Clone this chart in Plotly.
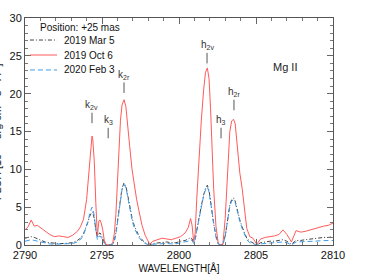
import plotly.graph_objects as go

wavelength = [
    2790.0, 2790.2, 2790.4, 2790.6, 2790.8, 2791.0, 2791.3, 2791.6, 2791.9, 2792.2,
    2792.5, 2792.8, 2793.1, 2793.4, 2793.6, 2793.8, 2794.0, 2794.1, 2794.2, 2794.3,
    2794.35, 2794.4, 2794.5, 2794.6, 2794.7, 2794.8, 2794.87, 2794.95, 2795.05, 2795.15,
    2795.25, 2795.4, 2795.55, 2795.7, 2795.8, 2795.9, 2796.0, 2796.1, 2796.2, 2796.3,
    2796.43, 2796.55, 2796.65, 2796.8, 2796.95, 2797.1, 2797.25, 2797.4, 2797.6, 2797.8,
    2798.0, 2798.1, 2798.3, 2798.6, 2798.9, 2799.2, 2799.5, 2799.8, 2800.1, 2800.4,
    2800.6, 2800.75, 2800.85, 2800.95, 2801.05, 2801.15, 2801.3, 2801.45, 2801.6, 2801.72,
    2801.84, 2801.95, 2802.05, 2802.15, 2802.25, 2802.4, 2802.55, 2802.7, 2802.85, 2803.0,
    2803.1, 2803.2, 2803.3, 2803.42, 2803.55, 2803.65, 2803.75, 2803.85, 2803.95, 2804.1,
    2804.25, 2804.4, 2804.6, 2804.8, 2805.05, 2805.3, 2805.6, 2805.9, 2806.2, 2806.5,
    2806.75, 2807.0, 2807.3, 2807.6, 2807.9, 2808.2, 2808.5, 2808.8, 2809.1, 2809.4,
    2809.7, 2810.0,
]

flux_2019_mar5 = [
    0.9, 1.0, 1.1, 1.0, 0.8, 0.6, 0.4, 0.3, 0.2, 0.2,
    0.2, 0.3, 0.3, 0.6, 0.9, 1.5, 2.5, 3.1, 3.8, 4.3,
    4.4, 4.3, 3.5, 2.0, 1.0, 1.5, 1.6, 1.3, 0.8, 0.3,
    0.0, 0.0, 0.0, 0.1, 0.6, 1.6, 3.0, 4.6, 6.2, 7.5,
    8.2, 7.8, 6.8, 5.0, 3.6, 2.5, 1.8, 1.2, 0.7, 0.3,
    0.1, 0.0, 0.2, 0.3, 0.4, 0.4, 0.3, 0.3, 0.5, 0.6,
    0.8, 1.0, 0.8, 0.3, 0.8, 2.0, 3.6, 5.2, 6.6, 7.5,
    7.9, 7.2, 5.8, 4.2, 2.8, 1.2, 0.2, 0.0, 0.1, 1.2,
    2.6, 4.0, 5.3, 6.0, 6.2, 5.8, 4.9, 4.0, 3.3, 2.4,
    1.5, 0.9, 0.5, 0.3, 0.0, 0.3, 0.4, 0.5, 0.5, 0.6,
    0.7, 0.5, 0.1, 0.6, 0.6, 0.7, 0.8, 0.8, 0.9, 1.0,
    1.0, 1.1,
]

flux_2019_oct6 = [
    2.0, 2.4, 3.3, 2.5, 2.6, 2.3, 1.9, 1.4, 1.1, 1.2,
    1.1, 1.0, 1.3, 1.8, 2.4, 3.4, 6.0, 8.5, 11.8, 14.0,
    14.4, 14.0, 11.0, 5.5, 1.2, 3.2, 3.3, 2.9, 2.0, 0.6,
    0.1, 0.0, 0.0, 0.3, 1.5, 4.0, 8.5, 13.0, 16.5, 18.5,
    19.2, 18.3, 16.5, 13.0, 10.0, 7.8, 6.0, 4.5, 2.6, 1.3,
    0.4, 0.1, 0.5, 0.7, 0.9, 0.8, 0.7, 0.9, 1.1, 1.6,
    2.3, 3.5, 2.6, 0.5, 1.5, 6.0, 11.5, 16.5, 20.5, 22.8,
    23.4, 22.0, 18.0, 12.5, 7.5, 2.5, 0.2, 0.0, 0.1, 3.5,
    8.0, 12.5, 15.0, 16.4, 16.6, 16.0, 14.0, 11.5, 9.5, 7.5,
    4.5, 2.2, 1.1, 0.9, 0.1, 0.8, 1.0, 1.1, 1.2, 1.4,
    2.0, 1.4, 0.4, 1.9, 1.7, 1.8, 2.0, 2.1, 2.3, 2.5,
    2.6, 2.9,
]

flux_2020_feb3 = [
    0.5, 0.6, 0.7, 0.6, 0.5, 0.4, 0.2, 0.15, 0.1, 0.1,
    0.1, 0.1, 0.2, 0.4, 0.7, 1.3, 2.4, 3.2, 4.1, 4.8,
    5.0, 4.9, 3.8, 2.0, 0.7, 1.1, 1.2, 1.0, 0.5, 0.2,
    0.0, 0.0, 0.0, 0.1, 0.5, 1.4, 2.8, 4.4, 6.0, 7.3,
    8.0, 7.6, 6.6, 4.8, 3.3, 2.2, 1.5, 1.0, 0.5, 0.2,
    0.05, 0.0, 0.1, 0.15, 0.2, 0.2, 0.15, 0.15, 0.3, 0.4,
    0.5, 0.7, 0.6, 0.2, 0.7, 1.9, 3.5, 5.1, 6.5, 7.3,
    7.7, 7.0, 5.6, 4.0, 2.6, 1.0, 0.1, 0.0, 0.1, 1.1,
    2.5, 3.9, 5.1, 5.8, 6.0, 5.6, 4.7, 3.8, 3.1, 2.2,
    1.3, 0.7, 0.3, 0.15, 0.0, 0.15, 0.2, 0.25, 0.3, 0.35,
    0.4, 0.3, 0.0, 0.4, 0.4, 0.45, 0.5, 0.5, 0.55, 0.6,
    0.6, 0.6,
]

series_names = ["2019 Mar 5", "2019 Oct 6", "2020 Feb 3"]
series_colors = ["#444444", "#ff5a5a", "#3d9be9"]
series_dashes = ["4px,2px,1px,2px", "solid", "5px,3px"]
legend_title = "Position: +25 mas"

line_labels = ["k<sub>2v</sub>", "k<sub>3</sub>", "k<sub>2r</sub>",
               "h<sub>2v</sub>", "h<sub>3</sub>", "h<sub>2r</sub>"]
line_wavelengths = [2794.35, 2795.4, 2796.43, 2801.82, 2802.73, 2803.57]
line_marker_tops = [16.1, 14.1, 20.1, 24.0, 14.1, 17.8]

FONT = "Liberation Sans, Arial, sans-serif"

fig = go.Figure()
for name, ys, col, dash in zip(series_names, [flux_2019_mar5, flux_2019_oct6, flux_2020_feb3],
                               series_colors, series_dashes):
    fig.add_trace(go.Scatter(x=wavelength, y=ys, mode="lines", name=name, showlegend=False,
                             line=dict(color=col, width=1, dash=dash)))

# manual legend (compact rows like the original)
fig.add_annotation(x=0.042, y=0.956, xref="paper", yref="paper", text=legend_title,
                   showarrow=False, xanchor="left", yanchor="middle",
                   font=dict(size=10, color="#111111", family=FONT))
legend_rows = [0.903, 0.837, 0.771]
for name, col, dash, ry in zip(series_names, series_colors, series_dashes, legend_rows):
    fig.add_shape(type="line", xref="paper", yref="paper", x0=0.016, x1=0.104, y0=ry, y1=ry,
                  line=dict(color=col, width=1, dash=dash))
    fig.add_annotation(x=0.12, y=ry, xref="paper", yref="paper", text=name, showarrow=False,
                       xanchor="left", yanchor="middle",
                       font=dict(size=10, color="#111111", family=FONT))

for lab, lx, ly in zip(line_labels, line_wavelengths, line_marker_tops):
    fig.add_annotation(x=lx, y=ly, xref="x", yref="y", text=lab, showarrow=True,
                       arrowhead=0, arrowwidth=1, arrowcolor="#555555", ax=0, ay=-18,
                       standoff=0, font=dict(size=10, color="#333333", family=FONT))

fig.add_annotation(x=2806.9, y=23.5, xref="x", yref="y", text="Mg II", showarrow=False,
                   font=dict(size=11, color="#222222", family=FONT))

fig.add_annotation(x=-0.095, y=0.5, xref="paper", yref="paper", textangle=-90,
                   text="FLUX [10<sup>-13</sup> erg cm<sup>-2</sup> s<sup>-1</sup> Å<sup>-1</sup>]",
                   showarrow=False, xanchor="center", yanchor="middle",
                   font=dict(size=11, color="#222222", family=FONT))

axis_common = dict(showline=True, linecolor="#555555", linewidth=1, mirror="allticks",
                   ticks="inside", ticklen=6, tickcolor="#666666", showgrid=False,
                   zeroline=False, automargin=False,
                   tickfont=dict(size=11, color="#111111", family=FONT),
                   minor=dict(ticks="inside", ticklen=3, tickcolor="#777777", dtick=1, showgrid=False))

fig.update_xaxes(range=[2790, 2810], dtick=5, tick0=2790,
                 title=dict(text="WAVELENGTH[Å]", font=dict(size=10, color="#111111", family=FONT), standoff=4),
                 **axis_common)
fig.update_yaxes(range=[0, 30], dtick=5, tick0=0, **axis_common)

fig.update_layout(
    width=380, height=280,
    margin=dict(l=25, r=47, t=18, b=35),
    paper_bgcolor="white", plot_bgcolor="white",
    font=dict(family=FONT, size=10, color="#111111"),
    showlegend=False,
)

fig.write_html("out.html", config={"displayModeBar": False},
               post_script="document.body.style.margin='0';document.body.style.overflow='hidden';")
